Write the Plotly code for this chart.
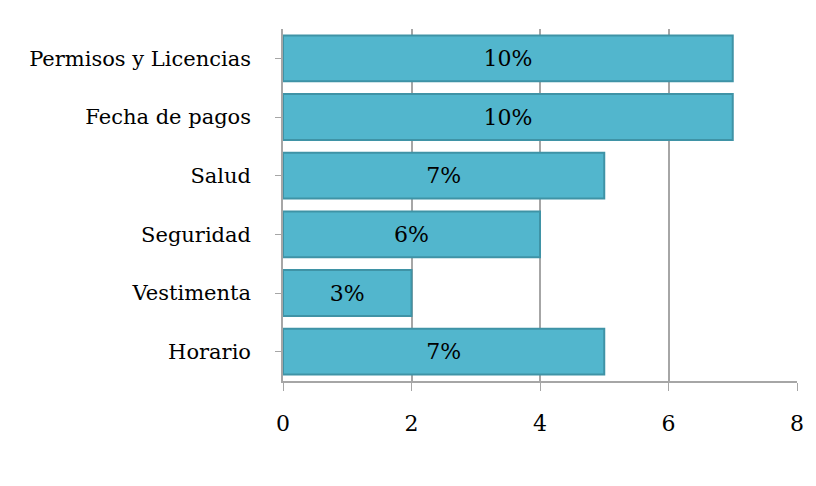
import plotly.graph_objects as go

categories = ["Horario", "Vestimenta", "Seguridad", "Salud", "Fecha de pagos", "Permisos y Licencias"]
values = [5, 2, 4, 5, 7, 7]
labels = ["7%", "3%", "6%", "7%", "10%", "10%"]
x_ticks = [0, 2, 4, 6, 8]

font_family = "DejaVu Serif, Liberation Serif, serif"

fig = go.Figure()
fig.add_trace(go.Bar(
    y=categories, x=values, orientation="h",
    text=labels, textposition="inside", insidetextanchor="middle",
    textfont=dict(family=font_family, size=22, color="black"),
    marker=dict(color="#52B6CD", line=dict(color="#3F93A6", width=2)),
    width=0.78,
    hoverinfo="skip",
))

fig.update_layout(
    width=816, height=486,
    margin=dict(l=283, r=16, t=29, b=105),
    paper_bgcolor="white", plot_bgcolor="white",
    showlegend=False,
    font=dict(family=font_family, size=21, color="black"),
    xaxis=dict(range=[0, 8], tickvals=x_ticks, showgrid=True, gridcolor="#A6A6A6", gridwidth=1.5,
               showline=True, linecolor="#A6A6A6", linewidth=1.5, ticks="outside", ticklen=8,
               tickcolor="#A6A6A6", zeroline=False, ticklabelstandoff=14,
               tickfont=dict(size=22, family=font_family)),
    yaxis=dict(categoryorder="array", categoryarray=categories, showline=True, linecolor="#A6A6A6",
               linewidth=1.5, ticks="outside", ticklen=6, tickcolor="#A6A6A6",
               tickfont=dict(size=21, family=font_family), ticksuffix="   "),
)

fig.write_html("out.html")
